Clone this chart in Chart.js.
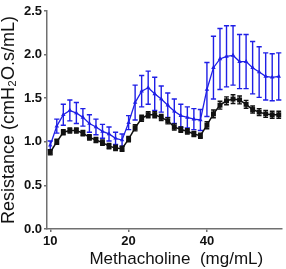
<!DOCTYPE html>
<html>
<head>
<meta charset="utf-8">
<script src="https://cdn.jsdelivr.net/npm/chart.js@4.4.1/dist/chart.umd.min.js"></script>
<style>
  html, body { margin: 0; padding: 0; background: #fff; }
  #wrap { width: 286px; height: 269px; }
</style>
</head>
<body>
<div id="wrap"><canvas id="c" width="286" height="269"></canvas></div>
<script>
// ---- data ----
const xTickPositions = [0, 12, 24];
const xTickLabels = ['10', '20', '40'];

const blackValues = [0.88, 1.00, 1.11, 1.13, 1.13, 1.10, 1.05, 1.02, 0.99, 0.95, 0.93, 0.92,
                     1.03, 1.16, 1.27, 1.31, 1.31, 1.28, 1.24, 1.17, 1.14, 1.12, 1.09, 1.07,
                     1.19, 1.32, 1.42, 1.47, 1.49, 1.48, 1.43, 1.37, 1.34, 1.32, 1.31, 1.31];
const blackErrors = [0.03, 0.03, 0.03, 0.03, 0.03, 0.03, 0.03, 0.03, 0.03, 0.03, 0.03, 0.03,
                     0.03, 0.035, 0.035, 0.035, 0.035, 0.035, 0.035, 0.035, 0.03, 0.03, 0.03, 0.03,
                     0.04, 0.045, 0.045, 0.045, 0.05, 0.045, 0.045, 0.04, 0.04, 0.04, 0.04, 0.04];

const blueValues = [0.96, 1.18, 1.31, 1.36, 1.33, 1.28, 1.21, 1.17, 1.12, 1.09, 1.04, 1.02,
                    1.22, 1.45, 1.58, 1.62, 1.55, 1.49, 1.42, 1.35, 1.30, 1.28, 1.26, 1.25,
                    1.60, 1.85, 1.95, 1.98, 1.99, 1.92, 1.92, 1.85, 1.80, 1.75, 1.74, 1.75];
const blueErrors = [0.05, 0.08, 0.12, 0.12, 0.12, 0.10, 0.10, 0.09, 0.08, 0.08, 0.07, 0.07,
                    0.08, 0.20, 0.18, 0.19, 0.19, 0.15, 0.14, 0.14, 0.13, 0.12, 0.12, 0.12,
                    0.31, 0.36, 0.35, 0.35, 0.34, 0.31, 0.31, 0.30, 0.29, 0.27, 0.27, 0.27];

const yTicks = [0, 0.5, 1.0, 1.5, 2.0, 2.5];

// ---- build ----
const toPoints = vals => vals.map((v, i) => ({ x: i, y: v }));
const errorSets = [blackErrors, blueErrors];
const blue = '#1f1fe6';
const errorStyle = [
  { color: '#111111', width: 1.4, cap: 2.4 },
  { color: blue, width: 1.4, cap: 2.6 }
];

const errorBarPlugin = {
  id: 'errorBars',
  beforeDatasetDraw(chart, args) {
    const i = args.index;
    const errs = errorSets[i];
    if (!errs) return;
    const st = errorStyle[i];
    const ctx = chart.ctx, xs = chart.scales.x, ys = chart.scales.y;
    const ds = chart.data.datasets[i];
    ctx.save();
    ctx.strokeStyle = st.color;
    ctx.lineWidth = st.width;
    ds.data.forEach((p, j) => {
      const x = xs.getPixelForValue(p.x);
      const yt = ys.getPixelForValue(p.y + errs[j]);
      const yb = ys.getPixelForValue(p.y - errs[j]);
      ctx.beginPath();
      ctx.moveTo(x, yt); ctx.lineTo(x, yb);
      ctx.moveTo(x - st.cap, yt); ctx.lineTo(x + st.cap, yt);
      ctx.moveTo(x - st.cap, yb); ctx.lineTo(x + st.cap, yb);
      ctx.stroke();
    });
    ctx.restore();
  }
};

const axisColor = '#707070';
const tickFont = { family: '"Liberation Sans", Arial, sans-serif', size: 13, weight: 'bold' };
const titleFont = { family: '"Liberation Sans", Arial, sans-serif', size: 17, lineHeight: 1 };

new Chart(document.getElementById('c'), {
  type: 'line',
  data: {
    datasets: [
      {
        data: toPoints(blackValues),
        borderColor: '#111111', backgroundColor: '#111111',
        borderWidth: 1.5, pointStyle: 'rect', pointRadius: 3.5,
        pointBorderWidth: 0, tension: 0, order: 0
      },
      {
        data: toPoints(blueValues),
        borderColor: blue, backgroundColor: blue,
        borderWidth: 1.3, pointStyle: 'triangle', pointRadius: 2.6,
        pointBorderWidth: 0, tension: 0, order: 1
      }
    ]
  },
  options: {
    responsive: false,
    animation: false,
    events: [],
    layout: { padding: { top: 11, right: 3, left: 0, bottom: 0 } },
    plugins: { legend: { display: false }, tooltip: { enabled: false } },
    scales: {
      x: {
        type: 'linear', min: -0.5, max: 35.5,
        afterBuildTicks: s => { s.ticks = xTickPositions.map(v => ({ value: v })); },
        afterFit: s => { s.height = 40; },
        ticks: {
          autoSkip: false, maxRotation: 0, padding: 2, color: '#111',
          font: tickFont,
          callback: v => xTickLabels[xTickPositions.indexOf(v)]
        },
        grid: { drawOnChartArea: false, drawTicks: true, tickLength: 3, color: axisColor, lineWidth: 1.5 },
        border: { color: axisColor, width: 1.5 },
        title: { display: true, text: '     Methacholine  (mg/mL)', color: '#111', font: titleFont, padding: { top: 0, bottom: 1 } }
      },
      y: {
        min: 0, max: 2.5,
        afterBuildTicks: s => { s.ticks = yTicks.map(v => ({ value: v })); },
        afterFit: s => { s.width = 47; },
        ticks: {
          padding: 2, color: '#111', font: tickFont,
          callback: v => v.toFixed(1)
        },
        grid: { drawOnChartArea: false, drawTicks: true, tickLength: 3, color: axisColor, lineWidth: 1.5 },
        border: { color: axisColor, width: 1.5 },
        title: { display: true, text: 'Resistance (cmH\u2082O.s/mL)', color: '#111', font: { family: '"Liberation Sans", Arial, sans-serif', size: 18, lineHeight: 1 }, padding: { top: 0, bottom: 0 } }
      }
    }
  },
  plugins: [errorBarPlugin]
});
</script>
</body>
</html>
